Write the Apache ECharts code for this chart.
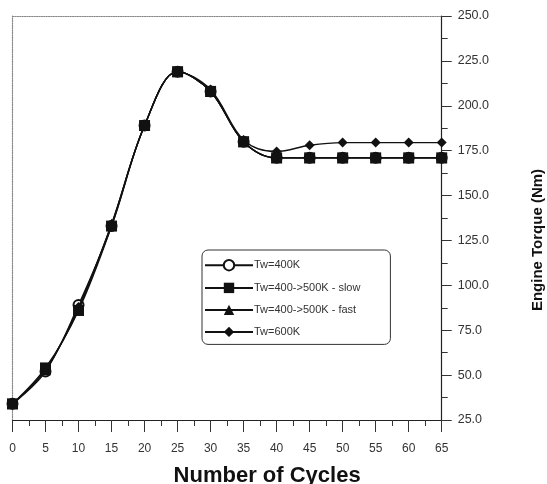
<!DOCTYPE html>
<html><head><meta charset="utf-8">
<script src="https://cdn.jsdelivr.net/npm/echarts@6/dist/echarts.min.js"></script>
<style>html,body{margin:0;padding:0;background:#fff}#c{width:547px;height:484px}</style>
</head><body><div id="c"></div>
<script>
const cycles = [0,5,10,15,20,25,30,35,40,45,50,55,60,65];
const tw400 = [34,52,89,133,189,219,208,180,171,171,171,171,171,171];
const twSlow = [34,54,86,133,189,219,208,180,171,171,171,171,171,171];
const twFast = [34,53,87,134,189,219,208,180,171,171,171,171,171,171];
const tw600 = [34,53,88,134,189,219,209,181,174.5,178,179.5,179.5,179.5,179.5];
const names = ['Tw=400K','Tw=400->500K - slow','Tw=400->500K - fast','Tw=600K'];
const pair = a => cycles.map((c,i)=>[c,a[i]]);
const base = {type:'line', smooth:0.35, lineStyle:{color:'#111',width:1.4}, itemStyle:{color:'#111'}, xAxisIndex:0, yAxisIndex:0};
const chart = echarts.init(document.getElementById('c'));
chart.setOption({
  animation:false,
  textStyle:{fontFamily:'Liberation Sans, Arial, sans-serif'},
  grid:{left:12.5,right:105.3,top:16,bottom:64,containLabel:false,outerBoundsMode:'none'},
  legend:{
    orient:'vertical', left:202, top:250, width:188,
    backgroundColor:'#fff', borderColor:'#333', borderWidth:1, borderRadius:6,
    padding:[9,30,7,2], itemGap:11, itemWidth:48, itemHeight:13,
    textStyle:{fontSize:11,color:'#333',padding:[0,0,0,-4]},
    data:names
  },
  xAxis:[{
    type:'value', min:0, max:65, interval:5, position:'bottom',
    axisLine:{onZero:false,lineStyle:{color:'#222',width:1.2}},
    axisTick:{show:true,inside:false,length:12,lineStyle:{color:'#333'}},
    minorTick:{show:true,splitNumber:2,length:6,lineStyle:{color:'#333'}},
    splitLine:{show:false},
    axisLabel:{margin:23,fontSize:12,color:'#333'},
    name:'Number of Cycles', nameLocation:'middle', nameGap:45,
    nameTextStyle:{fontSize:22,fontWeight:'bold',color:'#111',padding:[0,0,0,80]}
  },{
    type:'value', min:0, max:65, position:'top',
    axisLine:{show:true,onZero:false,lineStyle:{color:'#888',type:'dotted',width:1.2}},
    axisTick:{show:false}, axisLabel:{show:false}, splitLine:{show:false}
  }],
  yAxis:[{
    type:'value', min:25, max:250, interval:25, position:'right',
    axisLine:{show:true,onZero:false,lineStyle:{color:'#222',width:1.2}},
    axisTick:{show:true,inside:false,length:10,lineStyle:{color:'#333'}},
    minorTick:{show:true,splitNumber:2,length:6,lineStyle:{color:'#333'}},
    splitLine:{show:false},
    axisLabel:{margin:16,fontSize:12.5,color:'#333',formatter:v=>v.toFixed(1)},
    name:'Engine Torque (Nm)', nameLocation:'middle', nameGap:89, nameRotate:90,
    nameTextStyle:{fontSize:15,fontWeight:'bold',color:'#111',padding:[0,44,0,0]}
  },{
    type:'value', min:25, max:250, position:'left',
    axisLine:{show:true,onZero:false,lineStyle:{color:'#888',type:'dotted',width:1.2}},
    axisTick:{show:false}, axisLabel:{show:false}, splitLine:{show:false}
  }],
  series:[
    Object.assign({},base,{name:names[0],data:pair(tw400),symbol:'emptyCircle',symbolSize:10,itemStyle:{color:'#111',borderWidth:1.2},z:2}),
    Object.assign({},base,{name:names[2],data:pair(twFast),symbol:'triangle',symbolSize:11,z:3}),
    Object.assign({},base,{name:names[3],data:pair(tw600),symbol:'diamond',symbolSize:10,z:4}),
    Object.assign({},base,{name:names[1],data:pair(twSlow),symbol:'rect',symbolSize:11,z:5})
  ]
});
</script></body></html>
